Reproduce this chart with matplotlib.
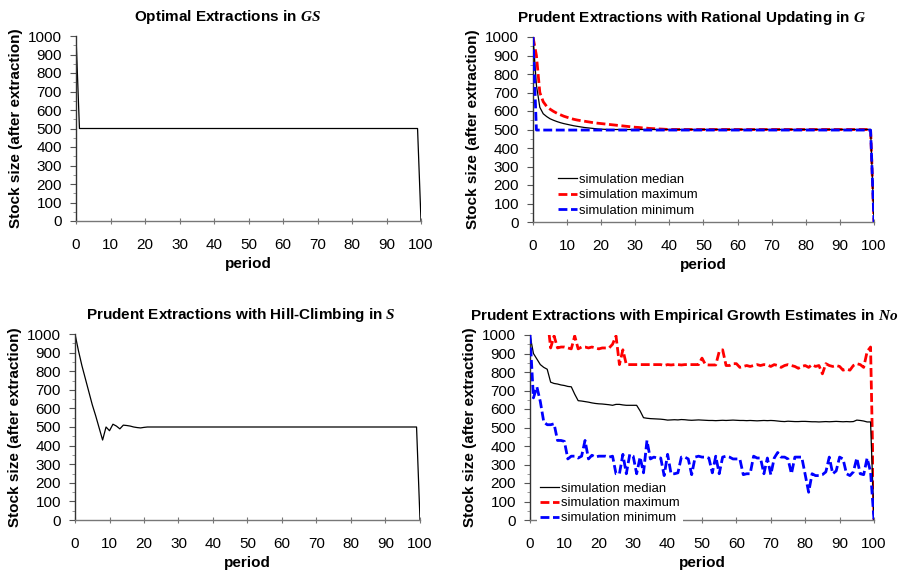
import matplotlib
matplotlib.use("Agg")
import matplotlib.pyplot as plt
from matplotlib.ticker import MultipleLocator

plt.rcParams['font.family'] = ['Liberation Sans', 'DejaVu Sans']
plt.rcParams['mathtext.fontset'] = 'custom'
plt.rcParams['mathtext.it'] = 'Liberation Serif:italic:bold'
plt.rcParams['mathtext.rm'] = 'Liberation Serif:bold'

periods = list(range(101))

# Panel 1: Optimal Extractions in GS
gs_stock = [1000] + [500] * 99 + [0]

# Panel 2: Rational Updating in G
g_median = [1000, 740, 620, 585, 570, 558, 550, 543, 537, 532,
            528, 524, 520, 517, 514, 511, 509, 507, 505, 503,
            502, 501, 500, 500, 500, 500, 500, 500, 500, 500] + [500] * 70 + [0]
g_max = [1000, 900, 700, 650, 625, 610, 598, 588, 580, 572,
         566, 560, 555, 551, 548, 545, 542, 539, 536, 534,
         532, 530, 528, 526, 524, 522, 520, 518, 516, 514,
         512, 511, 509, 508, 506, 505, 504, 503, 502, 501] + [500] * 60 + [0]
g_min = [1000] + [497] * 99 + [0]

# Panel 3: Hill-Climbing in S
s_stock = [1000, 910, 830, 760, 690, 620, 560, 495, 430, 500,
           480, 515, 505, 490, 510, 508, 505, 500, 497, 495,
           498] + [500] * 79 + [0]

# Panel 4: Empirical Growth Estimates in No
no_median = [1000, 900, 870, 840, 825, 815, 745, 738, 735, 730,
             727, 722, 720, 680, 645, 643, 640, 637, 633, 630,
             628, 627, 625, 623, 620, 625, 625, 622, 620, 620,
             620, 620, 590, 553, 550, 548, 547, 546, 545, 543,
             540, 541, 542, 541, 543, 542, 540, 539, 540, 541,
             540, 539, 538, 538, 537, 538, 539, 538, 539, 540,
             539, 538, 538, 537, 538, 537, 536, 537, 538, 537,
             538, 537, 535, 533, 532, 534, 533, 532, 532, 533,
             533, 532, 531, 531, 530, 531, 532, 531, 532, 533,
             532, 531, 532, 531, 532, 540, 538, 535, 530, 530, 0]
no_max = [1000, 1100, 1100, 1100, 1100, 1100, 930, 995, 930, 935,
          935, 930, 925, 995, 925, 935, 935, 930, 935, 930,
          925, 930, 930, 930, 950, 995, 840, 920, 840, 840,
          840, 840, 840, 840, 840, 840, 840, 840, 840, 835,
          840, 838, 840, 840, 838, 840, 840, 840, 840, 840,
          875, 840, 838, 838, 838, 910, 920, 835, 835, 845,
          845, 825, 830, 835, 830, 835, 840, 835, 840, 838,
          830, 840, 835, 825, 835, 840, 835, 830, 820, 830,
          835, 825, 840, 830, 835, 790, 845, 835, 830, 835,
          830, 810, 815, 810, 835, 845, 840, 825, 910, 935, 0]
no_min = [1000, 660, 720, 640, 530, 515, 515, 520, 430, 430,
          425, 330, 345, 345, 335, 345, 430, 330, 350, 340,
          345, 345, 345, 340, 345, 250, 250, 355, 250, 355,
          345, 250, 340, 255, 430, 330, 340, 335, 335, 240,
          355, 250, 250, 255, 340, 340, 330, 245, 340, 345,
          340, 340, 335, 255, 345, 250, 340, 345, 340, 330,
          330, 330, 245, 250, 250, 345, 335, 335, 250, 335,
          245, 335, 365, 340, 340, 330, 250, 340, 340, 340,
          245, 150, 250, 240, 240, 245, 260, 340, 250, 265,
          340, 330, 250, 240, 260, 335, 250, 245, 335, 260, 0]

titles = [r'Optimal Extractions in $GS$',
          r'Prudent Extractions with Rational Updating in $G$',
          r'Prudent Extractions with Hill-Climbing in $S$',
          r'Prudent Extractions with Empirical Growth Estimates in $No$']
legend_labels = ['simulation median', 'simulation maximum', 'simulation minimum']

W, H = 904, 571
fig = plt.figure(figsize=(W / 100, H / 100), dpi=100)

def add_ax(x0, x1, ytop, ybot):
    return fig.add_axes([x0 / W, 1 - ybot / H, (x1 - x0) / W, (ybot - ytop) / H])

boxes = [(76, 421, 36, 221), (533, 874, 37, 222), (75, 420, 334, 520), (530, 874, 335, 520)]
title_left_px = [134, 517, 86, 470]
axes = [add_ax(*b) for b in boxes]

dash = (0, (3.2, 1.3))

for ax, title, b, tl in zip(axes, titles, boxes, title_left_px):
    ax.set_xlim(0, 100)
    ax.set_ylim(0, 1000)
    ax.xaxis.set_major_locator(MultipleLocator(10))
    ax.yaxis.set_major_locator(MultipleLocator(100))
    ax.yaxis.set_minor_locator(MultipleLocator(50))
    for s in ['top', 'right']:
        ax.spines[s].set_visible(False)
    ax.spines['left'].set_color('#333333')
    ax.spines['bottom'].set_color('#777777')
    ax.spines['left'].set_linewidth(1.0)
    ax.spines['bottom'].set_linewidth(1.0)
    ax.tick_params(axis='x', direction='inout', length=5, width=0.8, color='#777777',
                   pad=10, labelsize=11)
    ax.tick_params(axis='y', direction='out', length=4, width=0.8, color='#555555',
                   pad=6, labelsize=11)
    ax.tick_params(axis='y', which='minor', direction='out', length=2.5, width=0.6, color='#888888')
    t = ax.set_title(title, fontsize=11, fontweight='bold', pad=11, loc='left')
    t.set_x((tl - b[0]) / (b[1] - b[0]))
    ax.set_xlabel('period', fontsize=11, fontweight='bold', labelpad=3)
    ax.set_ylabel('Stock size (after extraction)', fontsize=11, fontweight='bold', labelpad=4)

axes[0].plot(periods, gs_stock, color='black', lw=0.9)
axes[2].plot(periods, s_stock, color='black', lw=0.9)

ax = axes[1]
ax.plot(periods, g_median, color='black', lw=0.9, label=legend_labels[0], zorder=3)
ax.plot(periods, g_max, color='#ff0000', lw=2, ls=dash, label=legend_labels[1], zorder=2)
ax.plot(periods, g_min, color='#0000ff', lw=2, ls=dash, label=legend_labels[2], zorder=4)
ax.legend(loc='lower left', bbox_to_anchor=(0.046, -0.02), frameon=False, fontsize=9.4,
          handlelength=1.5, handletextpad=0.1, labelspacing=0.25, borderpad=0.2)

ax = axes[3]
ax.plot(periods, no_median, color='black', lw=0.9, label=legend_labels[0], zorder=3)
ax.plot(periods, no_max, color='#ff0000', lw=2, ls=dash, label=legend_labels[1], zorder=2)
ax.plot(periods, no_min, color='#0000ff', lw=2, ls=dash, label=legend_labels[2], zorder=4)
leg = ax.legend(loc='lower left', bbox_to_anchor=(0.0, -0.075), frameon=True, fontsize=9.4,
                handlelength=1.5, handletextpad=0.1, labelspacing=0.2, borderpad=0.25,
                fancybox=False, framealpha=1)
leg.get_frame().set_edgecolor('none')
leg.get_frame().set_facecolor('white')

fig.savefig('out.png', dpi=100)
